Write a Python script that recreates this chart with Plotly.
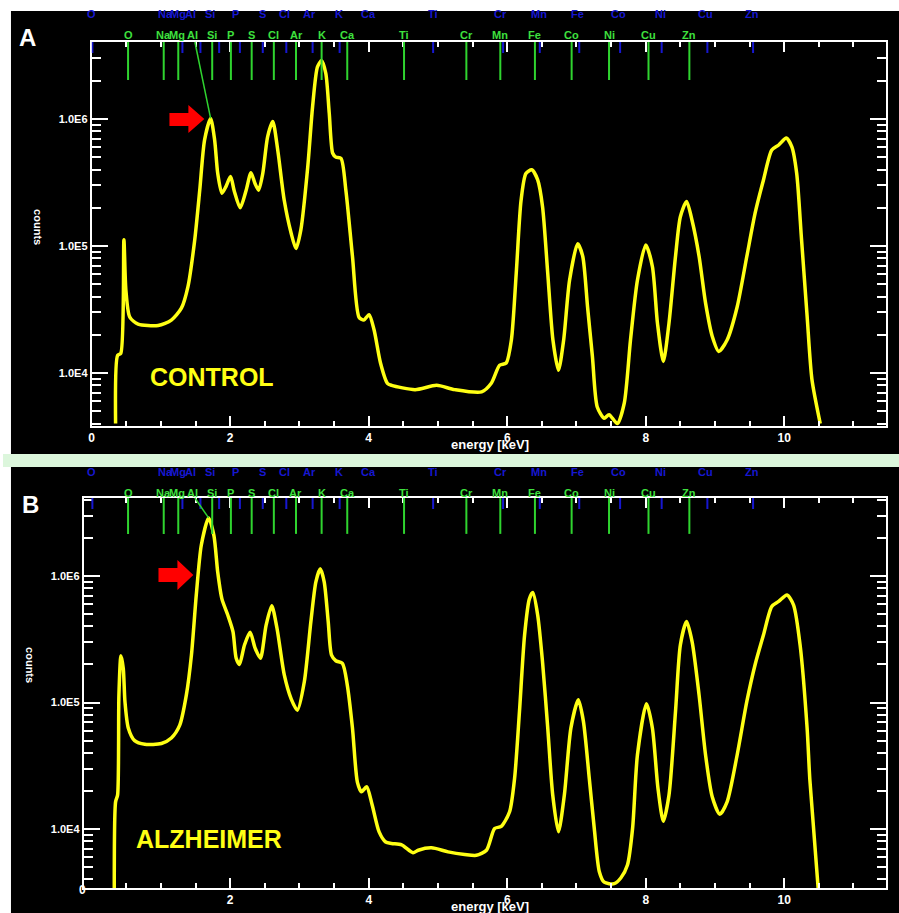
import plotly.graph_objects as go
import math

# ---------------- data ----------------
energy_a = [0.345, 0.374, 0.42, 0.465, 0.494, 0.55, 0.67, 0.96, 1.15, 1.295, 1.39, 1.487, 1.56, 1.63,
            1.717, 1.775, 1.82, 1.88, 1.94, 2.005, 2.06, 2.144, 2.23, 2.30, 2.36, 2.41, 2.47, 2.54,
            2.614, 2.686, 2.78, 2.88, 2.95, 3.02, 3.12, 3.19, 3.26, 3.32, 3.38, 3.43, 3.48, 3.525,
            3.60, 3.67, 3.765, 3.86, 3.93, 4.005, 4.077, 4.17, 4.27, 4.33, 4.67, 4.98, 5.24, 5.63,
            5.77, 5.89, 5.985, 6.06, 6.13, 6.20, 6.27, 6.355, 6.44, 6.51, 6.585, 6.66, 6.74, 6.815,
            6.90, 7.017, 7.09, 7.16, 7.23, 7.30, 7.40, 7.47, 7.59, 7.69, 7.78, 7.88, 8.0, 8.096,
            8.17, 8.254, 8.335, 8.43, 8.50, 8.59, 8.67, 8.77, 8.864, 8.96, 9.055, 9.175, 9.32, 9.46,
            9.58, 9.70, 9.82, 9.92, 10.03, 10.11, 10.18, 10.25, 10.33, 10.40, 10.52]
counts_a = [4.0e3, 1.38e4, 1.43e4, 1.12e5, 4.47e4, 2.75e4, 2.43e4, 2.37e4, 2.61e4, 3.24e4, 4.79e4, 1.11e5,
            2.75e5, 6.84e5, 1.01e6, 6.84e5, 3.72e5, 2.60e5, 2.95e5, 3.52e5, 2.69e5, 2.0e5, 2.75e5,
            3.78e5, 3.09e5, 2.75e5, 3.72e5, 7.24e5, 9.55e5, 5.70e5, 2.29e5, 1.26e5, 9.55e4, 1.34e5,
            4.22e5, 1.26e6, 2.57e6, 2.88e6, 2.29e6, 1.11e6, 5.37e5, 5.01e5, 4.90e5, 2.75e5, 8.32e4,
            2.75e4, 2.61e4, 2.88e4, 2.19e4, 1.20e4, 8.3e3, 8.0e3, 7.4e3, 8.0e3, 7.4e3, 7.1e3, 8.3e3,
            1.15e4, 1.20e4, 1.82e4, 6.1e4, 2.29e5, 3.72e5, 3.98e5, 3.31e5, 2.04e5, 6.1e4, 1.82e4,
            1.05e4, 1.82e4, 5.37e4, 1.04e5, 8.3e4, 3.31e4, 1.35e4, 5.4e3, 4.4e3, 4.7e3, 4.0e3, 5.8e3,
            1.82e4, 5.37e4, 1.02e5, 6.9e4, 2.45e4, 1.23e4, 2.45e4, 8.3e4, 1.70e5, 2.24e5, 1.58e5,
            8.3e4, 3.55e4, 1.95e4, 1.48e4, 1.82e4, 3.31e4, 8.3e4, 1.82e5, 3.31e5, 5.70e5, 6.24e5,
            7.08e5, 6.03e5, 3.72e5, 1.12e5, 2.82e4, 8.9e3, 4.0e3]

energy_b = [0.326, 0.345, 0.374, 0.393, 0.422, 0.456, 0.48, 0.528, 0.62, 0.767, 1.007, 1.15, 1.27, 1.367,
            1.44, 1.51, 1.583, 1.688, 1.765, 1.82, 1.88, 1.966, 2.04, 2.086, 2.134, 2.206, 2.288, 2.36,
            2.436, 2.518, 2.60, 2.676, 2.78, 2.88, 2.97, 3.07, 3.165, 3.237, 3.30, 3.357, 3.415, 3.463,
            3.525, 3.62, 3.69, 3.765, 3.837, 3.895, 3.97, 4.05, 4.15, 4.245, 4.33, 4.475, 4.64, 4.715,
            4.906, 5.146, 5.386, 5.554, 5.70, 5.818, 5.914, 6.034, 6.106, 6.177, 6.25, 6.32, 6.37, 6.44,
            6.51, 6.585, 6.657, 6.74, 6.825, 6.92, 7.027, 7.10, 7.185, 7.257, 7.33, 7.40, 7.545, 7.64,
            7.736, 7.81, 7.88, 8.01, 8.096, 8.177, 8.254, 8.336, 8.43, 8.50, 8.59, 8.67, 8.77, 8.864,
            8.96, 9.07, 9.175, 9.32, 9.46, 9.58, 9.70, 9.82, 9.92, 10.04, 10.135, 10.23, 10.33, 10.37,
            10.49]
counts_b = [3.4e3, 1.64e4, 1.86e4, 1.15e5, 2.34e5, 1.86e5, 1.02e5, 6.3e4, 5.0e4, 4.68e4, 4.75e4, 5.25e4,
            6.6e4, 1.15e5, 2.37e5, 7.08e5, 1.76e6, 2.88e6, 2.09e6, 1.07e6, 6.6e5, 4.9e5, 3.63e5, 2.24e5,
            2.0e5, 2.85e5, 3.59e5, 2.69e5, 2.24e5, 4.07e5, 5.82e5, 3.85e5, 1.66e5, 1.07e5, 8.7e4, 1.46e5,
            4.37e5, 9.0e5, 1.14e6, 9.0e5, 4.37e5, 2.37e5, 2.14e5, 2.04e5, 1.38e5, 6.3e4, 2.34e4, 1.97e4,
            2.16e4, 1.55e4, 9.5e3, 7.9e3, 7.7e3, 7.5e3, 6.5e3, 6.8e3, 7.1e3, 6.6e3, 6.3e3, 6.2e3, 6.8e3,
            1.01e4, 1.05e4, 1.37e4, 2.51e4, 8.5e4, 3.39e5, 6.6e5, 7.4e5, 4.9e5, 2.09e5, 6.3e4, 1.86e4,
            9.5e3, 1.86e4, 6.3e4, 1.05e5, 7.1e4, 2.51e4, 1.01e4, 4.6e3, 3.8e3, 3.7e3, 4.1e3, 5.2e3,
            1.01e4, 3.85e4, 9.8e4, 6.3e4, 2.09e4, 1.15e4, 1.86e4, 8.5e4, 2.85e5, 4.37e5, 3.02e5, 1.15e5,
            3.85e4, 1.80e4, 1.31e4, 1.64e4, 3.85e4, 1.02e5, 2.0e5, 3.42e5, 5.75e5, 6.3e5, 7.08e5, 5.9e5,
            2.82e5, 6.3e4, 2.45e4, 3.4e3]

elements = ["O", "Na", "Mg", "Al", "Si", "P", "S", "Cl", "Ar", "K", "Ca", "Ti",
            "Cr", "Mn", "Fe", "Co", "Ni", "Cu", "Zn"]
ka_energy = [0.525, 1.04, 1.25, 1.49, 1.74, 2.01, 2.31, 2.63, 2.95, 3.32, 3.69, 4.51,
             5.41, 5.90, 6.40, 6.93, 7.47, 8.04, 8.63]
label_energy = [0.525, 1.04, 1.23, 1.45, 1.74, 2.01, 2.31, 2.63, 2.95, 3.32, 3.69, 4.51,
                5.41, 5.90, 6.40, 6.93, 7.47, 8.04, 8.63]
blue_label_energy = [0.0, 1.06, 1.25, 1.42, 1.71, 2.07, 2.46, 2.79, 3.15, 3.57, 4.0, 4.93,
                     5.91, 6.46, 7.02, 7.60, 8.22, 8.86, 9.54]
blue_tick_energy = [0.01, 1.31, 1.57, 1.84, 2.14, 2.47, 2.81, 3.19, 3.58, 4.93, 5.94, 6.47,
                    7.04, 7.63, 8.23, 8.89, 9.55]

x_ticks = [0, 2, 4, 6, 8, 10]
y_ticks = [1e4, 1e5, 1e6]
y_ticktext = ["1.0E4", "1.0E5", "1.0E6"]

# ---------------- layout helpers ----------------
W, H = 899, 913
def px(x):
    return x / W
def py(y):
    return 1 - y / H

YELLOW = "#ffff14"
GREEN = "#2fd42f"
GREEN_TXT = "#3ee03e"
BLUE = "#1717d0"
FONT = "Liberation Sans, Arial, sans-serif"

x_range = [0, 11.47]
ya_range = [3.583, 6.606]
yb_range = [3.534, 6.617]

minor_x = [v * 0.5 for v in range(1, 23) if (v * 0.5) % 2 != 0]
minor_y = [k * 10 ** d for d in range(3, 7) for k in range(2, 10)]

def xaxis_cfg(domain, tickvals, anchor):
    return dict(domain=domain, range=x_range, anchor=anchor, showgrid=False, zeroline=False,
                showline=True, linecolor="white", linewidth=2, mirror="allticks",
                ticks="inside", tickvals=tickvals, ticktext=[str(v) for v in tickvals],
                ticklen=10, tickwidth=2, tickcolor="white",
                tickfont=dict(family=FONT, size=12, color="white", weight="bold"),
                minor=dict(tickvals=minor_x, ticks="inside", ticklen=5, tickwidth=2, tickcolor="white"))

def yaxis_cfg(domain, rng, anchor):
    return dict(domain=domain, type="log", range=rng, anchor=anchor, showgrid=False, zeroline=False,
                showline=True, linecolor="white", linewidth=2, mirror="allticks",
                ticks="inside", tickvals=y_ticks, ticktext=y_ticktext,
                ticklen=16, tickwidth=2, tickcolor="white",
                tickfont=dict(family=FONT, size=11, color="white", weight="bold"),
                minor=dict(tickvals=minor_y, ticks="inside", ticklen=9, tickwidth=2, tickcolor="white"))

fig = go.Figure()
fig.add_trace(go.Scatter(x=energy_a, y=counts_a, mode="lines", xaxis="x", yaxis="y",
                         line=dict(color=YELLOW, width=3.5, shape="spline", smoothing=0.7),
                         showlegend=False, hoverinfo="skip"))
fig.add_trace(go.Scatter(x=energy_b, y=counts_b, mode="lines", xaxis="x2", yaxis="y2",
                         line=dict(color=YELLOW, width=3.5, shape="spline", smoothing=0.7),
                         showlegend=False, hoverinfo="skip"))

shapes = []
annotations = []

# panel backgrounds
shapes.append(dict(type="rect", xref="paper", yref="paper", x0=px(8), x1=1, y0=py(454), y1=py(11),
                   fillcolor="black", line=dict(width=0), layer="below"))
shapes.append(dict(type="rect", xref="paper", yref="paper", x0=0, x1=1, y0=py(467), y1=py(454),
                   fillcolor="#dcf6dc", line=dict(width=0), layer="below"))
shapes.append(dict(type="rect", xref="paper", yref="paper", x0=px(8), x1=1, y0=0, y1=py(467),
                   fillcolor="black", line=dict(width=0), layer="below"))

panels = [
    dict(xr="x", yr="y", rng=ya_range, energy=energy_a, counts=counts_a,
         green_len=0.099, label_y=35, blue_y=14, letter="A", letter_xy=(25, 38),
         name="CONTROL", name_xy=(210, 377), counts_xy=(35, 227), energy_xy=(489, 444),
         arrow=(167, 186, 202, 105, 133, 113, 126), plot_h=384),
    dict(xr="x2", yr="y2", rng=yb_range, energy=energy_b, counts=counts_b,
         green_len=0.092, label_y=493, blue_y=472, letter="B", letter_xy=(28, 504),
         name="ALZHEIMER", name_xy=(207, 839), counts_xy=(27, 665), energy_xy=(489, 906),
         arrow=(156, 175, 191, 560, 590, 568, 582), plot_h=390),
]

for p in panels:
    xr, yr = p["xr"], p["yr"]
    ydom = yr + " domain"
    # blue K-beta ticks
    for e in blue_tick_energy:
        shapes.append(dict(type="line", xref=xr, yref=ydom, x0=e, x1=e, y0=1, y1=1 - 11 / p["plot_h"],
                           line=dict(color=BLUE, width=2)))
    # green K-alpha lines (Al drawn as pointer to Si peak)
    si_idx = max(range(len(p["energy"])), key=lambda i: p["counts"][i] if 1.5 < p["energy"][i] < 1.9 else 0)
    si_e, si_c = p["energy"][si_idx], p["counts"][si_idx]
    si_dom = (math.log10(si_c) - p["rng"][0]) / (p["rng"][1] - p["rng"][0])
    for el, e in zip(elements, ka_energy):
        if el == "Al":
            shapes.append(dict(type="line", xref=xr, yref=ydom, x0=e, x1=si_e, y0=1, y1=si_dom,
                               line=dict(color=GREEN, width=1.5)))
        else:
            shapes.append(dict(type="line", xref=xr, yref=ydom, x0=e, x1=e, y0=1, y1=1 - p["green_len"],
                               line=dict(color=GREEN, width=2)))
    for el, e in zip(elements, label_energy):
        annotations.append(dict(x=e, y=py(p["label_y"]), xref=xr, yref="paper", text=el, showarrow=False,
                                font=dict(family=FONT, size=11, color=GREEN_TXT, weight="bold"),
                                xanchor="center", yanchor="middle"))
    for el, e in zip(elements, blue_label_energy):
        annotations.append(dict(x=e, y=py(p["blue_y"]), xref=xr, yref="paper", text=el, showarrow=False,
                                font=dict(family=FONT, size=11, color=BLUE, weight="bold"),
                                xanchor="center", yanchor="middle"))
    # panel letter
    annotations.append(dict(x=px(p["letter_xy"][0]), y=py(p["letter_xy"][1]), xref="paper", yref="paper",
                            text="<b>" + p["letter"] + "</b>", showarrow=False,
                            font=dict(family=FONT, size=24, color="white"),
                            xanchor="center", yanchor="middle"))
    # sample name
    annotations.append(dict(x=px(p["name_xy"][0]), y=py(p["name_xy"][1]), xref="paper", yref="paper",
                            text="<b>" + p["name"] + "</b>", showarrow=False,
                            font=dict(family=FONT, size=25, color=YELLOW),
                            xanchor="center", yanchor="middle"))
    # axis titles
    annotations.append(dict(x=px(p["counts_xy"][0]), y=py(p["counts_xy"][1]), xref="paper", yref="paper",
                            text="<b>counts</b>", showarrow=False, textangle=90,
                            font=dict(family=FONT, size=11, color="white"),
                            xanchor="center", yanchor="middle"))
    annotations.append(dict(x=px(p["energy_xy"][0]), y=py(p["energy_xy"][1]), xref="paper", yref="paper",
                            text="<b>energy [keV]</b>", showarrow=False,
                            font=dict(family=FONT, size=13, color="white"),
                            xanchor="center", yanchor="middle"))
    # red arrow
    x0, xh, xt, ht, hb, st, sb = p["arrow"]
    cy = (ht + hb) / 2
    path = (f"M {px(x0)},{py(st)} L {px(xh)},{py(st)} L {px(xh)},{py(ht)} L {px(xt)},{py(cy)} "
            f"L {px(xh)},{py(hb)} L {px(xh)},{py(sb)} L {px(x0)},{py(sb)} Z")
    shapes.append(dict(type="path", xref="paper", yref="paper", path=path,
                       fillcolor="#ff0000", line=dict(width=0)))

# "0" label at the corner of panel B
annotations.append(dict(x=px(80), y=py(890), xref="paper", yref="paper", text="<b>0</b>", showarrow=False,
                        font=dict(family=FONT, size=12, color="white"), xanchor="center", yanchor="middle"))

fig.update_layout(
    width=W, height=H, autosize=False,
    margin=dict(l=0, r=0, t=0, b=0),
    paper_bgcolor="white", plot_bgcolor="black",
    showlegend=False,
    xaxis=xaxis_cfg([px(89), px(886)], x_ticks, "y"),
    yaxis=yaxis_cfg([py(426), py(42)], ya_range, "x"),
    xaxis2=xaxis_cfg([px(81), px(886)], x_ticks[1:], "y2"),
    yaxis2=yaxis_cfg([py(888), py(498)], yb_range, "x2"),
    shapes=shapes, annotations=annotations,
)
fig.layout.xaxis2.range = [-(89 - 81) / 69.5, 11.47]

# remove the default page margin so the figure fills the window exactly
fig.write_html("out.html", config={"displayModeBar": False},
               post_script="document.body.style.margin='0';document.body.style.overflow='hidden';")
